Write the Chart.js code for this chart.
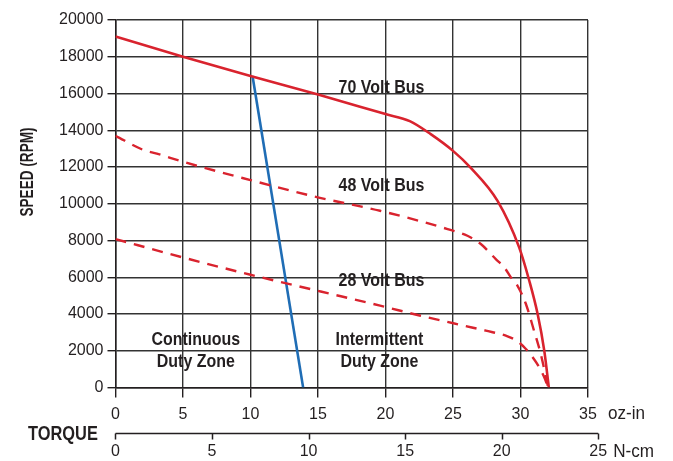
<!DOCTYPE html>
<html>
<head>
<meta charset="utf-8">
<script src="https://cdn.jsdelivr.net/npm/chart.js@4.4.1/dist/chart.umd.min.js"></script>
<style>
html,body{margin:0;padding:0;background:#fff;}
#wrap{width:673px;height:461px;position:relative;}
</style>
</head>
<body>
<div id="wrap"><canvas id="c" width="673" height="461"></canvas></div>
<script>
// ---- data (torque in oz-in, speed in RPM) ----
const torque70 = [0, 5, 10, 15, 20, 21.8, 23.35, 25, 26.3, 28.3, 29.9, 30.65, 31.27, 31.76, 32.1];
const rpm70    = [19100, 18000, 16950, 15950, 14880, 14500, 13790, 12880, 11970, 10160, 7630, 5815, 4000, 2010, 0];

const torque48 = [0, 2.1, 3.06, 5.03, 10, 15.06, 19.6, 24.6, 26.07, 27.06, 28.17, 28.8, 29.29, 29.78, 30.4, 31, 31.5, 32.05];
const rpm48    = [13700, 12920, 12730, 12280, 11290, 10340, 9620, 8625, 8260, 7810, 6990, 6540, 5995, 5540, 4550, 3100, 1830, 0];

const torque28 = [0, 5, 10, 15.2, 19.6, 22.6, 25.8, 27.43, 29.04, 29.78, 30.4, 30.9, 31.39, 31.76, 32.05];
const rpm28    = [8080, 7080, 6140, 5230, 4460, 3910, 3370, 3100, 2790, 2520, 2100, 1650, 1100, 560, 0];

const torqueCont = [10.15, 13.9];
const rpmCont    = [16950, 0];

const ozTicks  = [0, 5, 10, 15, 20, 25, 30, 35];
const ncmTicks = [0, 5, 10, 15, 20, 25];
const rpmTicks = [0, 2000, 4000, 6000, 8000, 10000, 12000, 14000, 16000, 18000, 20000];

const seriesLabels = ['70 Volt Bus', '48 Volt Bus', '28 Volt Bus', 'Continuous limit'];

// ---- chart setup ----
const RED = '#d9232e', BLUE = '#1f6db5', INK = '#231f20', GRID = '#333333';
const SANS = '"Liberation Sans", Arial, sans-serif';
const NCM_AXIS_MAX = 24.47; // N-cm value at the right edge of the plot (35 oz-in)

const pts = (xs, ys) => xs.map((x, i) => ({x: x, y: ys[i]}));

const notes = [
  {lines: ['70 Volt Bus'], x: 19.7, y: 16320},
  {lines: ['48 Volt Bus'], x: 19.7, y: 10980},
  {lines: ['28 Volt Bus'], x: 19.7, y: 5815},
  {lines: ['Continuous', 'Duty Zone'], x: 5.95, y: 2590},
  {lines: ['Intermittent', 'Duty Zone'], x: 19.55, y: 2590}
];

function narrowText(ctx, text, x, y, font, align, sx) {
  ctx.save();
  ctx.font = font;
  ctx.textBaseline = 'middle';
  ctx.textAlign = 'left';
  const w = ctx.measureText(text).width * sx;
  const left = align === 'center' ? x - w / 2 : (align === 'right' ? x - w : x);
  ctx.translate(left, y);
  ctx.scale(sx, 1);
  ctx.fillText(text, 0, 0);
  ctx.restore();
}

const extras = {
  id: 'extras',
  afterDatasetsDraw(chart) {
    const ctx = chart.ctx, xs = chart.scales.x, ys = chart.scales.y;
    ctx.save();
    ctx.fillStyle = INK;
    notes.forEach(n => {
      const px = xs.getPixelForValue(n.x);
      const py = ys.getPixelForValue(n.y);
      n.lines.forEach((t, i) => narrowText(ctx, t, px, py + i * 22, 'bold 19px ' + SANS, 'center', 0.84));
    });
    ctx.restore();
  },
  afterDraw(chart) {
    const ctx = chart.ctx, xs = chart.scales.x, x2 = chart.scales.x2, ys = chart.scales.y;
    ctx.save();
    // N-cm axis line and ticks
    const lineY = Math.round(ys.bottom + 45) + 0.5;
    ctx.strokeStyle = INK;
    ctx.lineWidth = 1.5;
    ctx.beginPath();
    ctx.moveTo(x2.getPixelForValue(ncmTicks[0]), lineY);
    ctx.lineTo(x2.getPixelForValue(ncmTicks[ncmTicks.length - 1]), lineY);
    ncmTicks.forEach(v => {
      const p = Math.round(x2.getPixelForValue(v)) + 0.5;
      ctx.moveTo(p, lineY);
      ctx.lineTo(p, lineY + 6);
    });
    ctx.stroke();
    ctx.fillStyle = INK;
    // unit labels
    narrowText(ctx, 'oz-in', xs.getPixelForValue(35) + 20, ys.bottom + 26, '19px ' + SANS, 'left', 0.9);
    narrowText(ctx, 'N-cm', x2.getPixelForValue(25) + 15, lineY + 18, '19px ' + SANS, 'left', 0.9);
    // axis titles
    narrowText(ctx, 'TORQUE', 28, lineY + 1, 'bold 20px ' + SANS, 'left', 0.82);
    ctx.translate(28, 172);
    ctx.rotate(-Math.PI / 2);
    narrowText(ctx, 'SPEED (RPM)', 0, 0, 'bold 18px ' + SANS, 'center', 0.755);
    ctx.restore();
  }
};

const tickFont = {family: SANS, size: 16};
const plain = v => String(v);

new Chart(document.getElementById('c'), {
  type: 'line',
  data: {
    datasets: [
      {label: seriesLabels[0], data: pts(torque70, rpm70), borderColor: RED, borderWidth: 2.6, cubicInterpolationMode: 'monotone'},
      {label: seriesLabels[1], data: pts(torque48, rpm48), borderColor: RED, borderWidth: 2.4, borderDash: [11, 8], cubicInterpolationMode: 'monotone'},
      {label: seriesLabels[2], data: pts(torque28, rpm28), borderColor: RED, borderWidth: 2.4, borderDash: [11, 8], cubicInterpolationMode: 'monotone'},
      {label: seriesLabels[3], data: pts(torqueCont, rpmCont), borderColor: BLUE, borderWidth: 2.6}
    ]
  },
  options: {
    responsive: false,
    animation: false,
    devicePixelRatio: 1,
    elements: {point: {radius: 0, hoverRadius: 0}, line: {fill: false}},
    layout: {padding: {left: 55, right: 85, top: 20, bottom: -3}},
    plugins: {legend: {display: false}, tooltip: {enabled: false}},
    scales: {
      x: {
        type: 'linear', position: 'bottom', min: 0, max: 35,
        afterBuildTicks: s => { s.ticks = ozTicks.map(v => ({value: v})); },
        grid: {color: GRID, lineWidth: 1.4, tickLength: 10, tickColor: INK},
        border: {color: INK, width: 1.5},
        ticks: {color: INK, font: tickFont, padding: 7, maxRotation: 0, callback: plain}
      },
      x2: {
        type: 'linear', position: 'bottom', min: 0, max: NCM_AXIS_MAX,
        afterBuildTicks: s => { s.ticks = ncmTicks.map(v => ({value: v})); },
        grid: {drawOnChartArea: false, tickLength: 8, tickColor: 'rgba(0,0,0,0)'},
        border: {display: false},
        ticks: {color: INK, font: tickFont, padding: 3, maxRotation: 0, callback: plain}
      },
      y: {
        type: 'linear', min: 0, max: 20000,
        afterBuildTicks: s => { s.ticks = rpmTicks.map(v => ({value: v})); },
        grid: {color: GRID, lineWidth: 1.4, tickLength: 8, tickColor: INK},
        border: {color: INK, width: 1.5},
        ticks: {color: INK, font: tickFont, padding: 4, callback: plain}
      }
    }
  },
  plugins: [extras]
});
</script>
</body>
</html>
